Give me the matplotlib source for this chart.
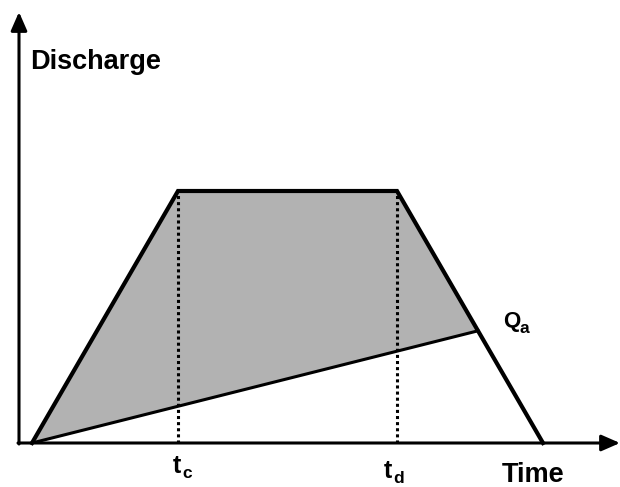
import numpy as np
import matplotlib
matplotlib.use("Agg")
import matplotlib.pyplot as plt

# trapezoidal hydrograph (arbitrary units)
t_c = 14.6
t_d = 36.5
t_end = 51.1
q_peak = 25.2
hydro_t = [0, t_c, t_d, t_end]
hydro_q = [0, q_peak, q_peak, 0]

# point where the baseline meets the falling limb
t_qa = 44.6
q_a = q_peak * (t_end - t_qa) / (t_end - t_d)
base_t = [0, t_qa]
base_q = [0, q_a]

plt.rcParams["font.family"] = ["Liberation Sans", "DejaVu Sans"]
plt.rcParams["font.weight"] = "bold"

fig = plt.figure(figsize=(6.2, 4.87), dpi=100)
ax = fig.add_axes([0, 0, 1, 1])
ax.set_xlim(-3.2, 58.8)
ax.set_ylim(-4.4, 44.3)
ax.axis("off")

# shaded area between hydrograph and baseline
shade_t = [0, t_c, t_d, t_qa]
shade_q = [0, q_peak, q_peak, q_a]
ax.fill(shade_t, shade_q, color="#b2b2b2", lw=0, zorder=1)

# dotted markers at t_c and t_d
for tv in (t_c, t_d):
    ax.plot([tv, tv], [0, q_peak], color="black", lw=2.2,
            linestyle=(0, (1, 1)), zorder=2)

ax.plot(hydro_t, hydro_q, color="black", lw=3.0, solid_joinstyle="miter", zorder=3)
ax.plot(base_t, base_q, color="black", lw=2.2, zorder=3)

# axes with arrow heads
arrow = dict(arrowstyle="-|>,head_length=0.8,head_width=0.35", color="black",
             lw=2.2, shrinkA=0, shrinkB=0, mutation_scale=14)
ax.annotate("", xy=(-1.3, 43.1), xytext=(-1.3, -0.1), arrowprops=arrow, zorder=4)
ax.annotate("", xy=(58.8, 0), xytext=(-1.4, 0), arrowprops=arrow, zorder=4)

ax.text(-0.2, 37.4, "Discharge", fontsize=19.5, fontweight="bold", va="baseline")
ax.text(47.0, -3.9, "Time", fontsize=19.5, fontweight="bold", va="baseline")

ax.text(t_c - 0.1, -3.0, "t", fontsize=18, fontweight="bold", ha="center", va="baseline")
ax.text(t_c + 0.4, -3.5, "c", fontsize=12.5, fontweight="bold", va="baseline")
ax.text(t_d - 0.9, -3.5, "t", fontsize=18, fontweight="bold", ha="center", va="baseline")
ax.text(t_d - 0.4, -4.0, "d", fontsize=12.5, fontweight="bold", va="baseline")

ax.text(t_qa + 2.5, q_a + 0.4, "Q", fontsize=16, fontweight="bold", va="baseline")
ax.text(t_qa + 4.2, q_a - 0.2, "a", fontsize=12.5, fontweight="bold", va="baseline")

fig.savefig("out.png", dpi=100)
